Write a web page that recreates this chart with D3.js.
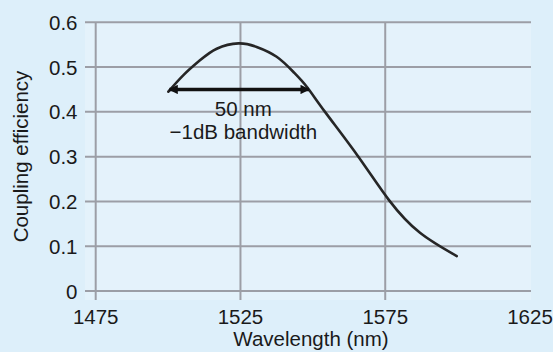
<!DOCTYPE html>
<html>
<head>
<meta charset="utf-8">
<script src="https://d3js.org/d3.v7.min.js"></script>
<style>
  html, body { margin: 0; padding: 0; background: #ddeffa; }
  svg { display: block; }
  text { font-family: "Liberation Sans", Arial, Helvetica, sans-serif; fill: #1a1a1a; }
</style>
</head>
<body>
<svg id="chart" width="553" height="352"></svg>
<script>
// ---- data ----
const wavelength = [1500.1, 1505.3, 1511.0, 1516.8, 1524.3, 1530.6, 1537.5, 1543.3, 1547.9, 1554.2, 1565.6, 1576.3, 1587.0, 1599.7];
const coupling   = [0.445, 0.482, 0.515, 0.541, 0.553, 0.545, 0.523, 0.489, 0.456, 0.400, 0.301, 0.203, 0.130, 0.078];
const xTicks = [1475, 1525, 1575, 1625];
const yTicks = [0, 0.1, 0.2, 0.3, 0.4, 0.5, 0.6];
const arrowFrom = [1500.1, 0.45];
const arrowTo = [1549, 0.45];
const annotationAt = [1526, 0.390];
const annotationLines = ["50 nm", "\u22121dB bandwidth"];
const xLabel = "Wavelength (nm)";
const yLabel = "Coupling efficiency";

// ---- layout ----
const svg = d3.select("#chart");
const x = d3.scaleLinear().domain([1475, 1625]).range([95.7, 530]);
const y = d3.scaleLinear().domain([0, 0.6]).range([291, 22.3]);
const fs = 20.5;

// plot area
svg.append("rect")
  .attr("x", 85).attr("y", 21).attr("width", 446).attr("height", 279)
  .attr("fill", "#e4f2fb");

// horizontal grid
svg.append("g").selectAll("line").data(yTicks).join("line")
  .attr("x1", 85).attr("x2", 531)
  .attr("y1", d => y(d)).attr("y2", d => y(d))
  .attr("stroke", "#9c9ea6").attr("stroke-width", 2);

// vertical grid (not at last tick)
svg.append("g").selectAll("line").data(xTicks.slice(0, -1)).join("line")
  .attr("x1", d => x(d)).attr("x2", d => x(d))
  .attr("y1", y(0.6)).attr("y2", y(0) + 9)
  .attr("stroke", "#9c9ea6").attr("stroke-width", 2);

// y tick labels
svg.append("g").selectAll("text").data(yTicks).join("text")
  .attr("x", 77.5).attr("y", d => y(d))
  .attr("text-anchor", "end").attr("dominant-baseline", "central")
  .attr("font-size", fs)
  .text(d => d === 0 ? "0" : d3.format(".1f")(d));

// x tick labels
svg.append("g").selectAll("text").data(xTicks).join("text")
  .attr("x", d => x(d)).attr("y", 324)
  .attr("text-anchor", "middle")
  .attr("font-size", fs)
  .text(d => d);

// axis titles
svg.append("text")
  .attr("x", 311).attr("y", 346)
  .attr("text-anchor", "middle").attr("font-size", fs)
  .text(xLabel);
svg.append("text")
  .attr("transform", "translate(28,156.5) rotate(-90)")
  .attr("text-anchor", "middle").attr("font-size", fs)
  .text(yLabel);

// curve
const pts = wavelength.map((w, i) => [w, coupling[i]]);
svg.append("path")
  .datum(pts)
  .attr("fill", "none")
  .attr("stroke", "#262626")
  .attr("stroke-width", 2.6)
  .attr("stroke-linecap", "round")
  .attr("d", d3.line().x(d => x(d[0])).y(d => y(d[1])).curve(d3.curveNatural));

// double arrow
const defs = svg.append("defs");
defs.append("marker")
  .attr("id", "ah").attr("viewBox", "0 0 10 10")
  .attr("refX", 9).attr("refY", 5)
  .attr("markerWidth", 3.2).attr("markerHeight", 2.6)
  .attr("orient", "auto-start-reverse")
  .append("path").attr("d", "M0,0 L10,5 L0,10 Z").attr("fill", "#111");
svg.append("line")
  .attr("x1", x(arrowFrom[0]) + 1).attr("y1", y(arrowFrom[1]))
  .attr("x2", x(arrowTo[0]) - 1).attr("y2", y(arrowTo[1]))
  .attr("stroke", "#111").attr("stroke-width", 3.6)
  .attr("marker-start", "url(#ah)").attr("marker-end", "url(#ah)");

// annotation
svg.append("g").selectAll("text").data(annotationLines).join("text")
  .attr("x", x(annotationAt[0]))
  .attr("y", (d, i) => y(annotationAt[1]) + i * 23)
  .attr("text-anchor", "middle").attr("font-size", fs)
  .text(d => d);
</script>
</body>
</html>
